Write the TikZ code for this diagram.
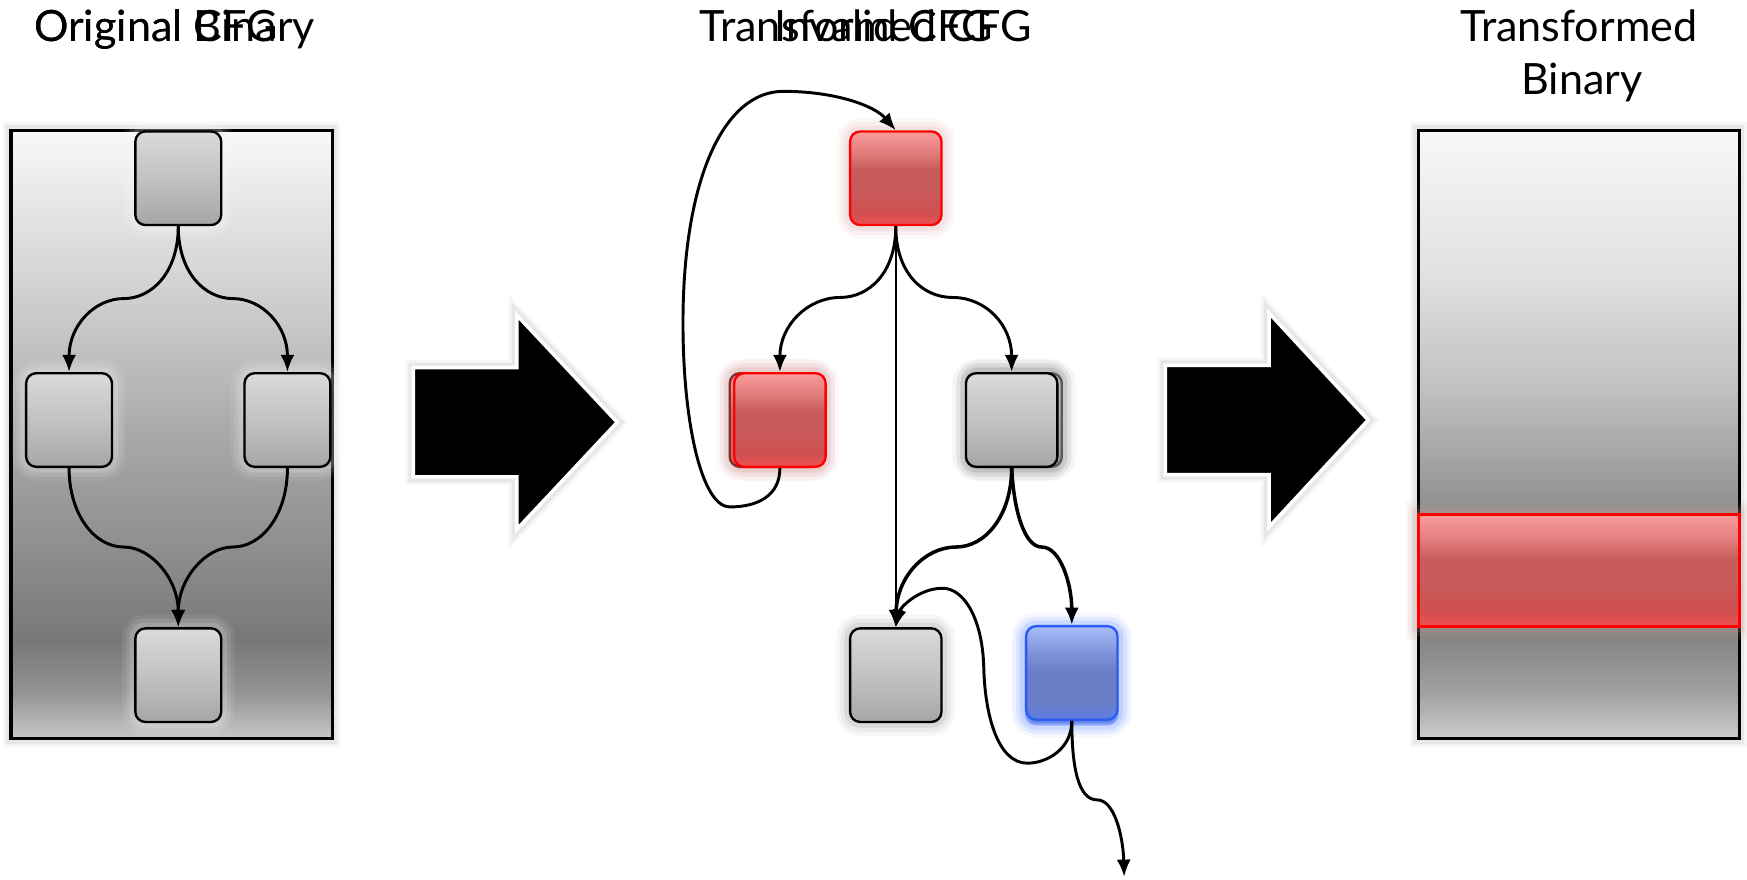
\documentclass[tikz,border=0pt]{standalone}
\usepackage{fontspec}
\setmainfont{Lato}
\usetikzlibrary{arrows.meta}

% colours
\definecolor{gtop}{HTML}{DADADA}
\definecolor{gmid}{HTML}{C2C2C2}
\definecolor{gbot}{HTML}{A6A6A6}
\definecolor{rtop}{HTML}{FA9C9C}
\definecolor{rup}{HTML}{E07A7A}
\definecolor{rmid}{HTML}{C85C5C}
\definecolor{rlow}{HTML}{D04F4F}
\definecolor{rbot}{HTML}{EF5252}
\definecolor{btop}{HTML}{A8BCFA}
\definecolor{bup}{HTML}{7E90D8}
\definecolor{bmid}{HTML}{6A7FC8}
\definecolor{bbot}{HTML}{5C7CE0}
\definecolor{bline}{HTML}{2A5CF0}
\definecolor{bglow}{HTML}{7FA0FF}
\definecolor{rglow}{HTML}{D49A9A}
\definecolor{lb0}{HTML}{C8C8C8}
\definecolor{lb1}{HTML}{929292}
\definecolor{lb2}{HTML}{787878}
\definecolor{lb3}{HTML}{8C8C8C}
\definecolor{lb4}{HTML}{A6A6A6}
\definecolor{lb5}{HTML}{D4D4D4}
\definecolor{lb6}{HTML}{F8F8F8}
\definecolor{rb0}{HTML}{CCCCCC}
\definecolor{rb1}{HTML}{A0A0A0}
\definecolor{rb2}{HTML}{848484}
\definecolor{rb3}{HTML}{909090}
\definecolor{rb4}{HTML}{C0C0C0}
\definecolor{rb5}{HTML}{E0E0E0}
\definecolor{rb6}{HTML}{F8F8F8}

% vertical fills (bottom to top, visible part 25bp..75bp)
\pgfdeclareverticalshading{graynode}{100bp}{color(0bp)=(gbot); color(25bp)=(gbot); color(50bp)=(gmid); color(75bp)=(gtop); color(100bp)=(gtop)}
\pgfdeclareverticalshading{rednode}{100bp}{color(0bp)=(rbot); color(25bp)=(rbot); color(32bp)=(rlow); color(45bp)=(rmid); color(55bp)=(rmid); color(63bp)=(rup); color(75bp)=(rtop); color(100bp)=(rtop)}
\pgfdeclareverticalshading{bluenode}{100bp}{color(0bp)=(bbot); color(25bp)=(bbot); color(35bp)=(bmid); color(50bp)=(bmid); color(60bp)=(bup); color(75bp)=(btop); color(100bp)=(btop)}
\pgfdeclareverticalshading{leftbin}{100bp}{color(0bp)=(lb0); color(25bp)=(lb0); color(28.9bp)=(lb1); color(33.1bp)=(lb2); color(39.9bp)=(lb3); color(49.1bp)=(lb4); color(62.8bp)=(lb5); color(75bp)=(lb6); color(100bp)=(lb6)}
\pgfdeclareverticalshading{rightbin}{100bp}{color(0bp)=(rb0); color(25bp)=(rb0); color(28.9bp)=(rb1); color(33.5bp)=(rb2); color(44bp)=(rb3); color(53.7bp)=(rb4); color(62.8bp)=(rb5); color(75bp)=(rb6); color(100bp)=(rb6)}

\begin{document}
\begin{tikzpicture}[x=0.01cm, y=-0.01cm,
  glow/.style={preaction={draw=#1, line width=7pt, opacity=0.07},
               preaction={draw=#1, line width=5pt, opacity=0.1},
               preaction={draw=#1, line width=3pt, opacity=0.15}},
  softglow/.style={preaction={draw=#1, line width=4pt, opacity=0.08},
                   preaction={draw=#1, line width=2.6pt, opacity=0.12}},
  block/.style={rectangle, rounded corners=2.6pt, line width=0.6pt,
                inner sep=0pt, minimum width=0.82cm, minimum height=0.84cm, shade},
  grayblock/.style={block, draw=black, shading=graynode},
  redblock/.style={block, draw=red, shading=rednode},
  blueblock/.style={block, draw=bline, shading=bluenode},
  binbox/.style={rectangle, draw=black, line width=0.8pt, inner sep=0pt,
                 minimum width=2.88cm, minimum height=5.46cm, shade, softglow=gray},
  flow/.style={line width=0.75pt, -{Latex[length=4.4pt,width=3.6pt]}},
  bigarrow/.style={fill=black, draw=white, line width=0.9pt, line join=miter,
                   softglow=gray},
  title/.style={font=\fontsize{11pt}{13.4pt}\selectfont, inner sep=0pt}]
\useasboundingbox (0,0) rectangle (1568,789);

% titles
\node[title, anchor=base west] (tcfg) at (30,37) {Original CFG};
\node[title, anchor=base west] (tbin) at (30,37) {Original Binary};
\node[title, anchor=base] (ttcfg) at (777,37) {Transformed CFG};
\node[title, anchor=base] (ticfg) at (793,37) {Invalid CFG};
\node[title, anchor=base] (ttbin) at (1417,37) {Transformed};
\node[title, anchor=base] (ttbin2) at (1420,85) {Binary};

% original binary with its CFG
\node[binbox, shading=leftbin] (LB) at (154,390) {};
\node[grayblock, glow=white, minimum width=0.77cm] (L1) at (160,160) {};
\node[grayblock, glow=white, minimum width=0.77cm] (L2) at (62,377) {};
\node[grayblock, glow=white, minimum width=0.77cm] (L3) at (258,377) {};
\node[grayblock, glow=white, minimum width=0.77cm] (L4) at (160,606) {};

\draw[flow] (L1.south) .. controls (160,245) and (136,268) .. (111,268)
            .. controls (85,268) and (62,292) .. (L2.north);
\draw[flow] (L1.south) .. controls (160,245) and (184,268) .. (209,268)
            .. controls (235,268) and (258,292) .. (L3.north);
\draw[flow] (L2.south) .. controls (62,462) and (85,491) .. (111,491)
            .. controls (136,491) and (160,520) .. (L4.north);
\draw[flow] (L3.south) .. controls (258,462) and (235,491) .. (209,491)
            .. controls (184,491) and (160,520) .. (L4.north);

% transformation arrows
\draw[bigarrow] (371,330) -- (464,330) -- (464,283) -- (554,379)
                -- (464,475) -- (464,428) -- (371,428) -- cycle;
\draw[bigarrow] (1046,328) -- (1139,328) -- (1139,281) -- (1228,377)
                -- (1139,473) -- (1139,426) -- (1046,426) -- cycle;

% transformed CFG
\node[redblock, draw=black!60!red, glow=rglow] (M2b) at (696,377) {};
\node[redblock, glow=rglow] (M2) at (700,377) {};
\node[grayblock, draw=black!70, glow=gray] (M3b) at (912,377) {};
\node[grayblock, glow=gray] (M3) at (908,377) {};
\node[redblock, glow=rglow] (M1) at (804,160) {};
\node[grayblock, glow=gray] (M5) at (804,606) {};
\node[blueblock, draw=bglow, glow=bglow] (M6b) at (962,608) {};
\node[blueblock, glow=bglow] (M6) at (962,604) {};
\coordinate (exit) at (1009,787);

\draw[flow] (M1.south) .. controls (804,245) and (780,267) .. (754,267)
            .. controls (725,267) and (700,292) .. (M2.north);
\draw[flow] (M1.south) .. controls (804,245) and (828,267) .. (855,267)
            .. controls (885,267) and (908,292) .. (M3.north);
\draw[flow, line width=0.6pt] (M1.south) -- (M5.north);
\draw[flow] (M2.south) .. controls (700,445) and (680,455) .. (655,455)
            .. controls (630,455) and (613,380) .. (613,290)
            .. controls (613,160) and (650,82) .. (703,82)
            .. controls (750,82) and (785,95) .. (M1.north);
\draw[flow, line width=0.9pt] (M3.south) .. controls (908,462) and (885,491) .. (858,491)
            .. controls (830,491) and (805,518) .. (M5.north);
\draw[flow, line width=0.9pt] (M3.south) .. controls (910,460) and (920,491) .. (935,491)
            .. controls (952,491) and (962,525) .. (M6.north);
\draw[flow] (M6.south) .. controls (962,672) and (940,685) .. (922,685)
            .. controls (895,685) and (884,640) .. (883,600)
            .. controls (882,555) and (865,528) .. (846,528)
            .. controls (825,528) and (808,545) .. (M5.north);
\draw[flow] (M6.south) .. controls (962,690) and (968,718) .. (985,718)
            .. controls (1000,718) and (1008,750) .. (exit);

% transformed binary
\node[binbox, shading=rightbin] (RB) at (1417,390) {};
\node[rectangle, draw=red, line width=0.8pt, inner sep=0pt, shade, shading=rednode,
      glow=rglow, minimum width=2.88cm, minimum height=1.0cm] (band) at (1417,512) {};
\end{tikzpicture}
\end{document}
